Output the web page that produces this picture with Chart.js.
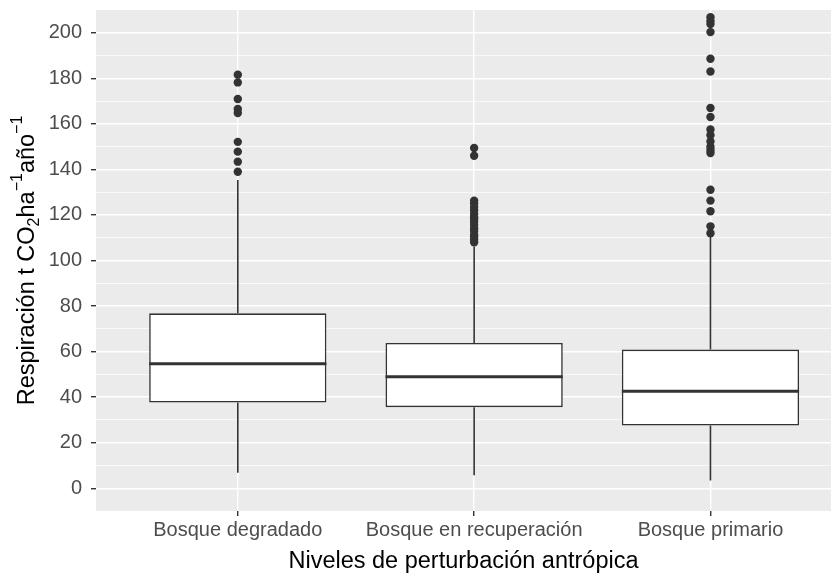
<!DOCTYPE html>
<html>
<head>
<meta charset="utf-8">
<script src="https://cdn.jsdelivr.net/npm/chart.js@4/dist/chart.umd.min.js"></script>
<style>
  html, body { margin: 0; padding: 0; background: #ffffff; overflow: hidden; }
  #wrap { width: 833px; height: 573px; position: relative; }
</style>
</head>
<body>
<div id="wrap"><canvas id="c" width="833" height="573"></canvas></div>
<script>
// Niveles de perturbación antrópica (categorías del eje x)
const categories = ['Bosque degradado', 'Bosque en recuperación', 'Bosque primario'];

// Resumen de cajas: cuartiles, mediana y extremos de bigotes (t CO2 ha-1 año-1)
const q1 = [37.6, 35.6, 27.5];
const medians = [54.7, 48.9, 42.6];
const q3 = [76.8, 63.8, 60.9];
const whiskerLow = [6.8, 5.7, 3.4];
const whiskerHigh = [135.4, 106.2, 110.3];

// Valores atípicos por nivel
const outliersDegradado = [139.0, 143.4, 147.8, 152.1, 164.8, 166.5, 170.9, 178.2, 181.6];
const outliersRecuperacion = [108.0, 109.2, 110.5, 111.3, 113.0, 114.1, 115.6, 117.0, 118.2, 119.0,
                              120.4, 122.1, 123.5, 125.0, 126.3, 146.0, 149.4];
const outliersPrimario = [112.0, 115.0, 121.6, 126.3, 131.1, 147.2, 148.5, 150.0, 152.3, 155.0,
                          157.5, 163.0, 167.0, 183.0, 188.6, 200.3, 203.8, 205.2, 206.8];

// Marcas del eje y
const yTicks = [0, 20, 40, 60, 80, 100, 120, 140, 160, 180, 200];

const outlierGroups = [outliersDegradado, outliersRecuperacion, outliersPrimario];
const outlierPoints = [];
outlierGroups.forEach((grp, i) => grp.forEach(v => outlierPoints.push({ x: i + 1, y: v })));

const INK = '#333333';
const FAMILY = '"Liberation Sans", Arial, sans-serif';

// Fondo gris del panel
const panelBg = {
  id: 'panelBg',
  beforeDraw(chart) {
    const { ctx, chartArea: a } = chart;
    ctx.save();
    ctx.fillStyle = '#EBEBEB';
    ctx.fillRect(a.left, a.top, a.right - a.left, a.bottom - a.top);
    ctx.restore();
  }
};

// Bigotes y medianas de cada caja
const boxParts = {
  id: 'boxParts',
  beforeDatasetsDraw(chart) {
    const { ctx } = chart;
    const xs = chart.scales.x, ys = chart.scales.y;
    ctx.save();
    ctx.strokeStyle = INK;
    ctx.lineWidth = 1.6;
    categories.forEach((c, i) => {
      const px = xs.getPixelForValue(i + 1);
      ctx.beginPath();
      ctx.moveTo(px, ys.getPixelForValue(q3[i]));
      ctx.lineTo(px, ys.getPixelForValue(whiskerHigh[i]));
      ctx.moveTo(px, ys.getPixelForValue(q1[i]));
      ctx.lineTo(px, ys.getPixelForValue(whiskerLow[i]));
      ctx.stroke();
    });
    ctx.restore();
  },
  afterDatasetsDraw(chart) {
    const { ctx } = chart;
    const ys = chart.scales.y;
    const meta = chart.getDatasetMeta(0);
    ctx.save();
    ctx.strokeStyle = INK;
    ctx.lineWidth = 3;
    meta.data.forEach((bar, i) => {
      const half = bar.width / 2;
      const py = ys.getPixelForValue(medians[i]);
      ctx.beginPath();
      ctx.moveTo(bar.x - half, py);
      ctx.lineTo(bar.x + half, py);
      ctx.stroke();
    });
    ctx.restore();
  }
};

// Título del eje y con subíndice y superíndices
const yTitle = {
  id: 'yTitle',
  afterDraw(chart) {
    const { ctx, chartArea: a } = chart;
    const size = 23.5, small = 16;
    const parts = [
      { t: 'Respiración t CO', s: size, dy: 0 },
      { t: '2', s: small, dy: 7 },
      { t: 'ha', s: size, dy: 0 },
      { t: '\u22121', s: small, dy: -10 },
      { t: 'año', s: size, dy: 0 },
      { t: '\u22121', s: small, dy: -10 }
    ];
    ctx.save();
    let total = 0;
    parts.forEach(p => { ctx.font = p.s + 'px ' + FAMILY; p.w = ctx.measureText(p.t).width; total += p.w; });
    const cy = (a.top + a.bottom) / 2;
    ctx.translate(27, cy);
    ctx.rotate(-Math.PI / 2);
    ctx.fillStyle = '#000000';
    ctx.textBaseline = 'middle';
    ctx.textAlign = 'left';
    let x = -total / 2;
    parts.forEach(p => {
      ctx.font = p.s + 'px ' + FAMILY;
      ctx.fillText(p.t, x, p.dy + 1);
      x += p.w;
    });
    ctx.restore();
  }
};

const X_MIN = 0.4, X_MAX = 3.51;

new Chart(document.getElementById('c'), {
  type: 'bar',
  data: {
    datasets: [
      {
        type: 'bar',
        data: categories.map((c, i) => ({ x: i + 1, y: [q1[i], q3[i]] })),
        backgroundColor: '#FFFFFF',
        borderColor: INK,
        borderWidth: 1.6,
        borderSkipped: false,
        barPercentage: 0.75,
        categoryPercentage: 1.0,
        order: 2
      },
      {
        type: 'scatter',
        data: outlierPoints,
        pointRadius: 4.2,
        pointBackgroundColor: INK,
        pointBorderColor: INK,
        pointBorderWidth: 0,
        order: 1
      }
    ]
  },
  options: {
    responsive: false,
    animation: false,
    events: [],
    layout: { padding: { left: 0, right: 2, top: 10, bottom: 0 }, autoPadding: false },
    plugins: { legend: { display: false }, tooltip: { enabled: false } },
    scales: {
      x: {
        type: 'linear',
        offset: false,
        min: X_MIN,
        max: X_MAX,
        afterBuildTicks(scale) { scale.ticks = categories.map((c, i) => ({ value: i + 1 })); },
        afterFit(scale) { scale.height = 62; scale.paddingLeft = 0; scale.paddingRight = 0; },
        ticks: {
          autoSkip: false,
          maxRotation: 0,
          padding: 2,
          color: '#4D4D4D',
          font: { family: FAMILY, size: 20 },
          callback(v) { return categories[Math.round(v) - 1] || ''; }
        },
        grid: { offset: false, color: '#FFFFFF', lineWidth: 1.4, tickColor: INK, tickLength: 5, tickWidth: 1.4 },
        border: { display: false },
        title: {
          display: true,
          text: 'Niveles de perturbación antrópica',
          color: '#000000',
          font: { family: FAMILY, size: 23.5, lineHeight: 1.0 },
          padding: { top: 0, bottom: 0 }
        }
      },
      y: {
        type: 'linear',
        min: -10,
        max: 210,
        afterFit(scale) { scale.width = 96; scale.paddingTop = 0; scale.paddingBottom = 0; },
        afterBuildTicks(scale) {
          const t = [];
          for (let v = -10; v <= 210; v += 10) t.push({ value: v });
          scale.ticks = t;
        },
        ticks: {
          autoSkip: false,
          padding: 9,
          color: '#4D4D4D',
          font: { family: FAMILY, size: 20 },
          callback(v) { return yTicks.includes(v) ? String(v) : ''; }
        },
        grid: {
          color(ctx) {
            const v = ctx.tick && ctx.tick.value;
            if (v === -10 || v === 210) return 'rgba(0,0,0,0)';
            return '#FFFFFF';
          },
          lineWidth(ctx) {
            const v = ctx.tick && ctx.tick.value;
            return yTicks.includes(v) ? 1.4 : 0.7;
          },
          tickColor(ctx) {
            const v = ctx.tick && ctx.tick.value;
            return yTicks.includes(v) ? INK : 'rgba(0,0,0,0)';
          },
          tickLength: 5,
          tickWidth: 1.4
        },
        border: { display: false }
      }
    }
  },
  plugins: [panelBg, boxParts, yTitle]
});
</script>
</body>
</html>
